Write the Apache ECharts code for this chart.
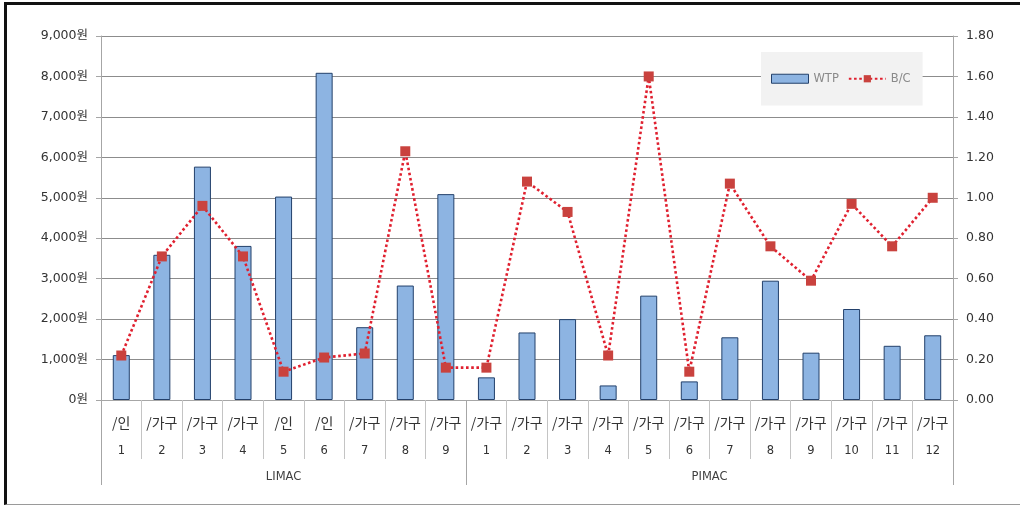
<!DOCTYPE html>
<html>
<head>
<meta charset="utf-8">
<script src="https://cdn.jsdelivr.net/npm/echarts@6/dist/echarts.min.js"></script>
<style>
html,body{margin:0;padding:0;background:#fff;}
#wrap{position:relative;width:1020px;height:509px;}
#chart{position:absolute;left:0;top:0;width:1020px;height:509px;}
#frame{position:absolute;left:4px;top:2px;width:1020px;height:503px;border-left:3px solid #111;border-top:3px solid #111;border-bottom:1px solid #9a9a9a;pointer-events:none;box-sizing:border-box;}
</style>
</head>
<body>
<div id="wrap"><div id="chart"></div><div id="frame"></div></div>
<script>
const groupNames = ['LIMAC', 'PIMAC'];
const groupSizes = [9, 12];
const units = ['/인','/가구','/가구','/가구','/인','/인','/가구','/가구','/가구',
               '/가구','/가구','/가구','/가구','/가구','/가구','/가구','/가구','/가구','/가구','/가구','/가구'];
const nums = ['1','2','3','4','5','6','7','8','9',
              '1','2','3','4','5','6','7','8','9','10','11','12'];
const wtp = [1110,3590,5770,3810,5030,8090,1800,2830,5090,
             560,1670,2000,360,2580,460,1550,2950,1170,2250,1340,1600];
const bc = [0.22,0.71,0.96,0.71,0.14,0.21,0.23,1.23,0.16,
            0.16,1.08,0.93,0.22,1.60,0.14,1.07,0.76,0.59,0.97,0.76,1.00];
const wtpTicks = {min: 0, max: 9000, interval: 1000};
const bcTicks = {min: 0, max: 1.8, interval: 0.2};

// derived helpers
const categories = units.map((u, i) => i + ':' + u + nums[i]);
const groupStarts = [];
const groupCenters = {};
let acc = 0;
groupSizes.forEach((n, g) => {
  groupStarts.push(acc);
  groupCenters[(acc + n / 2).toFixed(1)] = groupNames[g];
  acc += n;
});
const total = acc;

const FONT = "'DejaVu Sans', 'Noto Sans CJK KR', sans-serif";
const chart = echarts.init(document.getElementById('chart'), null, {renderer: 'canvas'});
chart.setOption({
  animation: false,
  textStyle: {fontFamily: FONT},
  grid: {left: 101, right: 67, top: 36, bottom: 109, containLabel: false},
  legend: {
    left: 761, top: 52,
    padding: [21, 12, 21, 10],
    backgroundColor: '#f2f2f2',
    itemWidth: 37, itemHeight: 9, itemGap: 9,
    textStyle: {color: '#8a8a8a', fontSize: 11.5, fontFamily: FONT},
    data: [{name: 'WTP', icon: 'rect', itemStyle: {borderWidth: 1}}, {name: 'B/C'}]
  },
  xAxis: [
    {
      type: 'category', position: 'bottom', data: categories,
      axisLine: {show: true, lineStyle: {color: '#a6a6a6', width: 1}},
      axisTick: {show: true, interval: 0, length: 59, lineStyle: {color: '#c4c4c4'}},
      axisLabel: {
        interval: 0, margin: 9,
        formatter: (v, i) => '{u|' + units[i] + '}\n{n|' + nums[i] + '}',
        rich: {
          u: {fontSize: 14, lineHeight: 28, color: '#333', fontFamily: "'Noto Sans CJK KR', sans-serif"},
          n: {fontSize: 11.5, lineHeight: 28, color: '#333', fontFamily: FONT}
        }
      },
      splitLine: {show: false}
    },
    {
      type: 'category', position: 'bottom', data: categories,
      axisLine: {show: false},
      axisTick: {show: true, interval: (i) => groupStarts.includes(i), length: 85, lineStyle: {color: '#a6a6a6'}},
      axisLabel: {show: false},
      splitLine: {show: false}
    },
    {
      type: 'value', position: 'bottom', min: 0, max: total, interval: 0.5,
      axisLine: {show: false}, axisTick: {show: false}, splitLine: {show: false},
      axisLabel: {
        margin: 71, color: '#404040', fontSize: 11.5, fontFamily: FONT,
        formatter: (v) => groupCenters[v.toFixed(1)] || ''
      }
    }
  ],
  yAxis: [
    {
      type: 'value', position: 'left',
      min: wtpTicks.min, max: wtpTicks.max, interval: wtpTicks.interval,
      axisLine: {show: true, lineStyle: {color: '#a6a6a6'}},
      axisTick: {show: true, length: 5, lineStyle: {color: '#a6a6a6'}},
      axisLabel: {
        margin: 13, color: '#333', fontSize: 12.5, fontFamily: FONT,
        formatter: (v) => v.toLocaleString('en-US') + '원'
      },
      splitLine: {show: true, lineStyle: {color: '#8c8c8c', width: 1}}
    },
    {
      type: 'value', position: 'right',
      min: bcTicks.min, max: bcTicks.max, interval: bcTicks.interval,
      axisLine: {show: true, lineStyle: {color: '#a6a6a6'}},
      axisTick: {show: true, length: 5, lineStyle: {color: '#a6a6a6'}},
      axisLabel: {
        margin: 13, color: '#333', fontSize: 12.5, fontFamily: FONT,
        formatter: (v) => v.toFixed(2)
      },
      splitLine: {show: false}
    }
  ],
  series: [
    {
      name: 'WTP', type: 'bar', xAxisIndex: 0, yAxisIndex: 0,
      data: wtp, barWidth: 17,
      itemStyle: {color: '#8db4e2', borderColor: '#23406b', borderWidth: 1}
    },
    {
      name: 'B/C', type: 'line', xAxisIndex: 0, yAxisIndex: 1,
      data: bc, symbol: 'rect', symbolSize: 10,
      itemStyle: {color: '#c9423e'},
      lineStyle: {color: '#e0202f', width: 2.6, type: [2.6, 2.6]}
    }
  ]
});
</script>
</body>
</html>
